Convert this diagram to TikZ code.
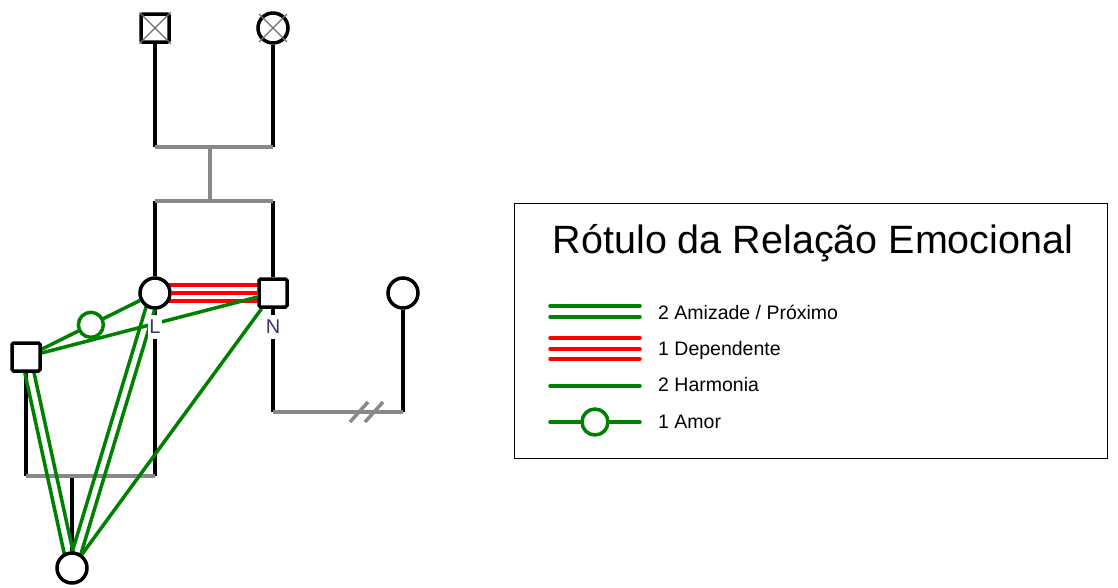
\documentclass[tikz,border=0pt]{standalone}
\usepackage{fontspec}
\setmainfont{Liberation Sans}
\usetikzlibrary{calc}
\definecolor{gfg}{RGB}{0,128,0}
\definecolor{grl}{RGB}{136,136,136}
\definecolor{lbl}{RGB}{55,55,105}
\definecolor{xgr}{RGB}{110,110,110}
\pgfdeclarelayer{bg}
\pgfsetlayers{bg,main}
\begin{document}
\begin{tikzpicture}[x=1pt,y=-1pt,
  blk/.style={line width=3.5pt, black},
  gry/.style={line width=3.5pt, grl, line cap=square},
  gl/.style={line width=3.5pt, gfg},
  rl/.style={line width=4pt, red},
  fem/.style={circle, draw, line width=3.5pt, fill=white, minimum size=30pt, inner sep=0pt},
  mal/.style={rectangle, draw, line width=3.5pt, fill=white, minimum size=28pt, inner sep=0pt, rounded corners=1.5pt},
  lovec/.style={circle, draw=gfg, line width=3.5pt, fill=white, inner sep=0pt},
  xline/.style={line width=1.2pt, xgr},
  lbltxt/.style={font=\fontsize{20}{20}\selectfont, text=lbl, fill=white, inner xsep=1pt, inner ysep=0pt, minimum height=24pt},
  legtxt/.style={font=\fontsize{19.5}{20}\selectfont, anchor=base west, inner sep=0pt},
  legln/.style={line width=3.5pt, line cap=round}
]
\useasboundingbox (0,0) rectangle (1118,587);

% persons
\node[mal] (tsq) at (155,28) {};
\node[fem] (tci) at (273,28) {};
\node[fem] (Lc) at (155,293) {};
\node[mal] (Nsq) at (273,293) {};
\node[fem] (Rc) at (403,293) {};
\node[mal] (Lsq) at (26,357) {};
\node[fem] (bot) at (72,568) {};

% deceased marks
\draw[xline] (tsq.north west) -- (tsq.south east);
\draw[xline] (tsq.north east) -- (tsq.south west);
\draw[xline] ($(tci)+(-14,-14)$) -- ($(tci)+(14,14)$);
\draw[xline] ($(tci)+(14,-14)$) -- ($(tci)+(-14,14)$);

% coordinates of family lines
\coordinate (p1) at (155,147);
\coordinate (p2) at (273,147);
\coordinate (p3) at (210,147);
\coordinate (p4) at (210,201);
\coordinate (p5) at (155,201);
\coordinate (p6) at (273,201);
\coordinate (q1) at (273,412);
\coordinate (q2) at (403,412);
\coordinate (r1) at (26,476);
\coordinate (r2) at (155,476);
\coordinate (r3) at (72,476);
\coordinate (s1) at (359,412);
\coordinate (s2) at (374,412);

\begin{pgfonlayer}{bg}
  % black descent lines
  \draw[blk] (tsq) -- (p1);
  \draw[blk] (tci) -- (p2);
  \draw[blk] (p5) -- (Lc);
  \draw[blk] (p6) -- (Nsq);
  \draw[blk] (Nsq) -- (q1);
  \draw[blk] (Rc) -- (q2);
  \draw[blk] (Lsq) -- (r1);
  \draw[blk] (Lc) -- (r2);
  \draw[blk] (r3) -- (bot);
  % gray relationship lines
  \draw[gry] (p1) -- (p2);
  \draw[gry] (p3) -- (p4);
  \draw[gry] (p5) -- (p6);
  \draw[gry] (q1) -- (q2);
  \draw[gry] (r1) -- (r2);
  \draw[gry, line cap=butt] ($(s1)+(-9,10)$) -- ($(s1)+(9,-10)$);
  \draw[gry, line cap=butt] ($(s2)+(-9,10)$) -- ($(s2)+(9,-10)$);
  % emotional relations
  \draw[rl] ($(Lc)+(0,-8)$) -- ($(Nsq)+(0,-8)$);
  \draw[rl] (Lc) -- (Nsq);
  \draw[rl] ($(Lc)+(0,8)$) -- ($(Nsq)+(0,8)$);
  \draw[gl] (Lsq) -- (Nsq);
  \draw[gl] (Nsq) -- (bot);
  \draw[gl] ($(Lsq)!4.5pt!90:(bot)$) -- ($(bot)!4.5pt!-90:(Lsq)$);
  \draw[gl] ($(Lsq)!4.5pt!-90:(bot)$) -- ($(bot)!4.5pt!90:(Lsq)$);
  \draw[gl] ($(Lc)!4.5pt!90:(bot)$) -- ($(bot)!4.5pt!-90:(Lc)$);
  \draw[gl] ($(Lc)!4.5pt!-90:(bot)$) -- ($(bot)!4.5pt!90:(Lc)$);
  \draw[gl] (Lc) -- node[lovec, minimum size=25pt, pos=0.5] (love) {} (Lsq);
\end{pgfonlayer}

% labels
\node[lbltxt] (labL) at (155,327) {L};
\node[lbltxt] (labN) at (273,327) {N};

% legend
\node[draw, line width=1.2pt, anchor=north west, minimum width=593pt, minimum height=255pt, inner sep=0pt] (legend) at (514,203) {};
\node[font=\fontsize{39.5}{40}\selectfont, anchor=base, inner sep=0pt] (title) at (813,253) {Rótulo da Relação Emocional};

\draw[legln, gfg] (550,306) -- (640,306);
\draw[legln, gfg] (550,317) -- (640,317);
\node[legtxt] (t1) at (658,319) {2 Amizade / Próximo};

\draw[legln, red] (550,338) -- (640,338);
\draw[legln, red] (550,349) -- (640,349);
\draw[legln, red] (550,359) -- (640,359);
\node[legtxt] (t2) at (658,355) {1 Dependente};

\draw[legln, gfg] (550,386) -- (640,386);
\node[legtxt] (t3) at (658,391) {2 Harmonia};

\draw[legln, gfg] (550,422) -- (640,422);
\node[lovec, minimum size=26pt] (lovelg) at (595,422) {};
\node[legtxt] (t4) at (658,428) {1 Amor};
\end{tikzpicture}
\end{document}
